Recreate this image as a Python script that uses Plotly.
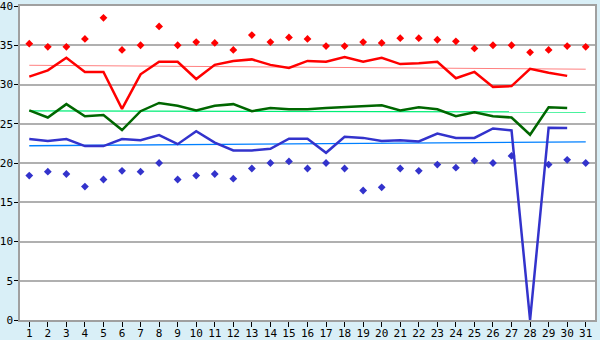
import plotly.graph_objects as go

days = list(range(1, 32))

max_pts = [35.2, 34.8, 34.8, 35.8, 38.5, 34.4, 35.0, 37.4, 35.0, 35.4,
           35.3, 34.4, 36.3, 35.4, 36.0, 35.8, 34.9, 34.9, 35.4, 35.3,
           35.9, 35.9, 35.7, 35.5, 34.6, 35.0, 35.0, 34.1, 34.4, 34.9, 34.8]

min_pts = [18.4, 18.9, 18.6, 17.0, 17.9, 19.0, 18.9, 20.0, 17.9, 18.4,
           18.6, 18.0, 19.3, 20.0, 20.2, 19.3, 20.0, 19.3, 16.5, 16.9,
           19.3, 19.0, 19.8, 19.4, 20.3, 20.0, 20.9, None, 19.8, 20.4, 20.0]

red_line = [31.0, 31.8, 33.4, 31.6, 31.6, 26.9, 31.3, 32.9, 32.9, 30.7,
            32.5, 33.0, 33.2, 32.5, 32.1, 33.0, 32.9, 33.5, 32.9, 33.4,
            32.6, 32.7, 32.9, 30.8, 31.6, 29.7, 29.8, 32.0, 31.5, 31.1, None]

green_line = [26.7, 25.8, 27.5, 25.95, 26.1, 24.2, 26.6, 27.65, 27.3, 26.7,
              27.3, 27.5, 26.6, 27.0, 26.85, 26.85, 27.0, 27.1, 27.2, 27.35,
              26.7, 27.1, 26.85, 25.95, 26.45, 25.95, 25.8, 23.6, 27.1, 27.0, None]

blue_line = [23.05, 22.8, 23.05, 22.15, 22.15, 23.05, 22.9, 23.55, 22.4, 24.05,
             22.6, 21.6, 21.6, 21.8, 23.1, 23.1, 21.3, 23.35, 23.2, 22.8,
             22.9, 22.75, 23.75, 23.2, 23.2, 24.4, 24.15, 0.0, 24.5, 24.45, None]

trend_x = [1, 31]
red_trend = [32.45, 31.95]
green_trend = [26.65, 26.5]
blue_trend = [22.2, 22.7]

y_ticks = [0, 5, 10, 15, 20, 25, 30, 35, 40]

fig = go.Figure()

fig.add_trace(go.Scatter(x=trend_x, y=red_trend, mode="lines",
                         line=dict(color="#FF8080", width=1)))
fig.add_trace(go.Scatter(x=trend_x, y=green_trend, mode="lines",
                         line=dict(color="#00EE77", width=1.3)))
fig.add_trace(go.Scatter(x=trend_x, y=blue_trend, mode="lines",
                         line=dict(color="#0080FF", width=1.3)))

fig.add_trace(go.Scatter(x=days, y=red_line, mode="lines",
                         line=dict(color="#FF0000", width=2.5)))
fig.add_trace(go.Scatter(x=days, y=green_line, mode="lines",
                         line=dict(color="#006600", width=2.5)))
fig.add_trace(go.Scatter(x=days, y=blue_line, mode="lines",
                         line=dict(color="#3333CC", width=2.5)))

fig.add_trace(go.Scatter(x=days, y=max_pts, mode="markers",
                         marker=dict(symbol="diamond", size=6, color="#FF0000")))
fig.add_trace(go.Scatter(x=days, y=min_pts, mode="markers",
                         marker=dict(symbol="diamond", size=6, color="#3333CC")))

fig.update_layout(
    width=600, height=340,
    margin=dict(l=20, r=5, t=6, b=20, autoexpand=False),
    paper_bgcolor="#D9EFF7",
    plot_bgcolor="#FFFFFF",
    showlegend=False,
    font=dict(family="DejaVu Sans Mono", size=11, color="#000000"),
)
fig.update_xaxes(
    range=[0.5, 31.5], tickmode="array", tickvals=days,
    ticktext=[str(d) for d in days],
    showgrid=False, zeroline=False, automargin=False,
    showline=True, mirror=True, linecolor="#A0A0A0", linewidth=1.5,
    ticks="outside", ticklen=5, tickcolor="#000000",
    ticklabelstandoff=-3, ticklabeloverflow="allow",
    tickfont=dict(size=11),
)
fig.update_yaxes(
    range=[0, 40], tickmode="array", tickvals=y_ticks,
    showgrid=True, gridcolor="#B0B0B0", gridwidth=1.5, zeroline=False,
    automargin=False,
    showline=True, mirror=True, linecolor="#A0A0A0", linewidth=1.5,
    ticks="outside", ticklen=4, tickcolor="#000000",
    ticklabelstandoff=-1, ticklabeloverflow="allow",
    tickfont=dict(size=11),
)

fig.write_html("out.html")
